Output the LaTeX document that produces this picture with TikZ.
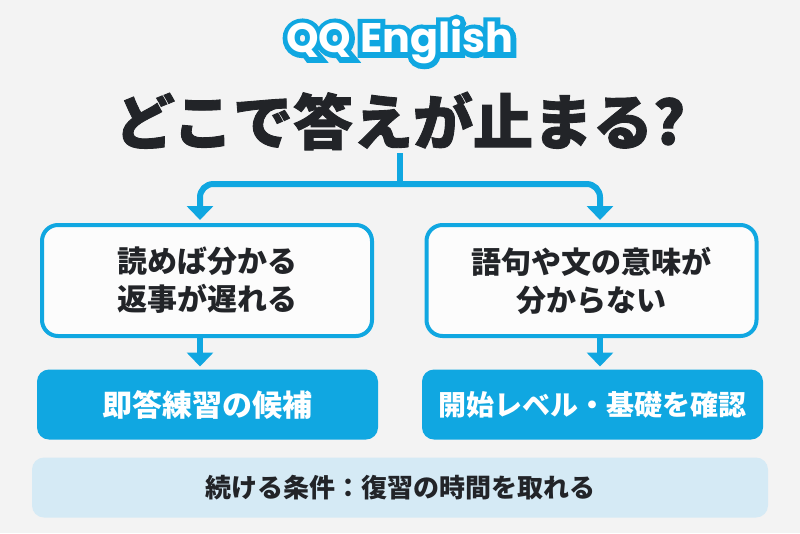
\documentclass[tikz,border=0pt]{standalone}
\usepackage{fontspec}
\usetikzlibrary{arrows.meta}
\newfontfamily\jp{Noto Sans CJK JP}
\IfFontExistsTF{Noto Sans CJK JP Black}{\newfontfamily\jpblack{Noto Sans CJK JP Black}[FakeBold=1.5]}{\newfontfamily\jpblack{Noto Sans CJK JP Bold}[FakeBold=3]}
\newfontfamily\logofont{Poppins}
\newfontfamily\logoline{Poppins}[UprightFont=*, BoldFeatures={FakeBold=24}]
\definecolor{qblue}{HTML}{10A7E1}
\definecolor{bg}{HTML}{F3F3F3}
\definecolor{boxfill}{HTML}{FCFCFC}
\definecolor{notefill}{HTML}{D5EAF5}
\definecolor{ink}{HTML}{222428}
\tikzset{
  whitebox/.style={draw=qblue, line width=3pt, fill=boxfill, rounded corners=12pt,
    minimum width=247.5pt, minimum height=83.25pt, align=center, text=ink,
    font=\jp\bfseries\fontsize{22.5}{28.5}\selectfont},
  bluebox/.style={fill=qblue, rounded corners=9pt, minimum width=255.75pt,
    minimum height=52.5pt, text=white, outer sep=0pt},
  notebox/.style={fill=notefill, rounded corners=9pt, minimum width=552pt,
    minimum height=45pt, text=ink, outer sep=0pt,
    font=\jp\bfseries\fontsize{19.5}{23}\selectfont},
  stem/.style={draw=qblue, line width=4.5pt},
  arr/.style={draw=qblue, line width=4.5pt, -{Triangle[width=19.5pt,length=10.5pt]}, shorten >=2.25pt}
}
\begin{document}
\begin{tikzpicture}[x=0.75pt,y=-0.75pt]
\fill[bg] (0,0) rectangle (800,533);
\useasboundingbox (0,0) rectangle (800,533);

\node[text=qblue, font=\logoline\bfseries\fontsize{31}{36}\selectfont] (logoedge) at (400,42) {QQ English};
\node[text=white, font=\logofont\bfseries\fontsize{31}{36}\selectfont] (logo) at (400,42) {QQ English};
\node[text=ink, font=\jpblack\fontsize{45}{52}\selectfont] (title) at (400,121) {どこで答えが止まる?};

\node[whitebox] (b1) at (207,280.5) {読めば分かる\\返事が遅れる};
\node[whitebox] (b2) at (591.5,280.5) {語句や文の意味が\\分からない};

\node[bluebox, font=\jp\bfseries\fontsize{22.5}{27}\selectfont] (g1) at (207.5,404.5) {即答練習の候補};
\node[bluebox, font=\jp\bfseries\fontsize{21}{25}\selectfont] (g2) at (592.5,404.5) {開始レベル・基礎を確認};

\node[notebox] (note) at (400,487.5) {続ける条件：復習の時間を取れる};

\coordinate (top) at (400,153);
\coordinate (hub) at (400,184);
\coordinate (L) at (200,0);
\coordinate (R) at (600,0);

\draw[stem] (top) -- ([yshift=-2.25pt]hub);
\draw[arr, rounded corners=10pt] (hub) -| (L |- b1.north);
\draw[arr, rounded corners=10pt] (hub) -| (R |- b2.north);
\draw[arr] (L |- b1.south) -- (L |- g1.north);
\draw[arr] (R |- b2.south) -- (R |- g2.north);
\end{tikzpicture}
\end{document}
